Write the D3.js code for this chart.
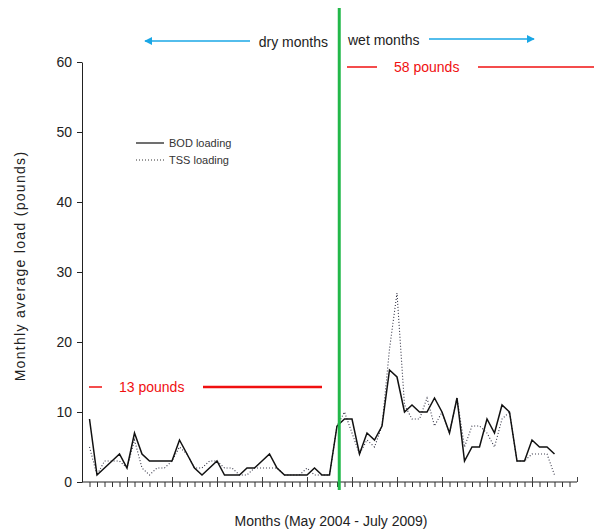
<!DOCTYPE html>
<html>
<head>
<meta charset="utf-8">
<script src="https://cdn.jsdelivr.net/npm/d3@7/dist/d3.min.js"></script>
<style>
  body { margin: 0; background: #fff; }
  svg { font-family: "Liberation Sans", Arial, sans-serif; }
</style>
</head>
<body>
<div id="chart"></div>
<script>
// Monthly loads, May 2004 - July 2009 (63 months)
var bod = [9,1,2,3,4,2,7,4,3,3,3,3,6,4,2,1,2,3,1,1,1,2,2,3,4,2,1,1,1,1,2,1,1,8,
           9,9,4,7,6,8,16,15,10,11,10,10,12,10,7,12,3,5,5,9,7,11,10,3,3,6,5,5,4];
var tss = [5,1,3,3,3,2,6,2,1,2,2,3,5,4,2,2,3,3,2,2,1,1,2,2,2,2,1,1,1,2,1,1,1,8,
           10,7,4,6,5,8,19,27,11,9,9,12,8,10,7,12,5,8,8,7,5,9,10,3,3,4,4,4,1];
var yTicks = [0,10,20,30,40,50,60];

var w = 597;
var h = 531;

var svg = d3.select("#chart")
            .append("svg")
            .attr("width", w)
            .attr("height", h);

var x = d3.scaleLinear().domain([0, 66]).range([82, 577]);
var y = d3.scaleLinear().domain([0, 60]).range([482, 62]);

var months = d3.range(1, 66);
var majors = d3.range(6, 67, 6);

//Y axis
var yAxis = svg.append("g")
    .attr("transform", "translate(82,0)")
    .call(d3.axisLeft(y).tickValues(yTicks).tickSize(5).tickSizeOuter(0).tickPadding(5));
yAxis.selectAll("text").style("font-size", "14px").style("fill", "#222");
yAxis.selectAll("line, path").style("stroke", "#222");

//X axis, minor ticks below, major ticks above
var xAxis = svg.append("g")
    .attr("transform", "translate(0,482)")
    .call(d3.axisBottom(x).tickValues(months).tickSize(5).tickSizeOuter(0).tickFormat(""));
xAxis.select("path").attr("d", "M82,0H577").style("stroke", "#222");
xAxis.selectAll("line").style("stroke", "#333");

var xMajor = svg.append("g")
    .attr("transform", "translate(0,482)")
    .call(d3.axisTop(x).tickValues(majors).tickSize(5).tickSizeOuter(0).tickFormat(""));
xMajor.select("path").remove();
xMajor.selectAll("line").style("stroke", "#444");

//Axis titles
svg.append("text")
    .attr("transform", "translate(25,266) rotate(-90)")
    .attr("text-anchor", "middle")
    .style("font-size", "14px")
    .style("letter-spacing", "1.3px")
    .style("fill", "#222")
    .text("Monthly average load (pounds)");

svg.append("text")
    .attr("x", 331)
    .attr("y", 526)
    .attr("text-anchor", "middle")
    .style("font-size", "14px")
    .style("fill", "#222")
    .text("Months (May 2004 - July 2009)");

//Lines
var line = d3.line()
    .x(function(d, i) { return x(i + 1); })
    .y(function(d) { return y(d); });

svg.append("path")
    .datum(tss)
    .attr("d", line)
    .style("fill", "none")
    .style("stroke", "#334")
    .style("stroke-width", 1.1)
    .style("stroke-dasharray", "1,2");

svg.append("path")
    .datum(bod)
    .attr("d", line)
    .style("fill", "none")
    .style("stroke", "#111")
    .style("stroke-width", 1.5);

//Dry / wet divider
svg.append("line")
    .attr("x1", x(34.3)).attr("x2", x(34.3))
    .attr("y1", 8).attr("y2", 490)
    .style("stroke", "#22b84a")
    .style("stroke-width", 3);

//Arrows
var defs = svg.append("defs");
defs.append("marker")
    .attr("id", "arrow")
    .attr("viewBox", "0 0 10 10")
    .attr("refX", 9).attr("refY", 5)
    .attr("markerWidth", 8).attr("markerHeight", 8)
    .attr("orient", "auto-start-reverse")
    .attr("markerUnits", "userSpaceOnUse")
    .append("path")
    .attr("d", "M0,0L10,5L0,10z")
    .style("fill", "#1aa7e6");

svg.append("line")
    .attr("x1", 250).attr("y1", 41).attr("x2", 145).attr("y2", 41)
    .style("stroke", "#1aa7e6").style("stroke-width", 1.5)
    .attr("marker-end", "url(#arrow)");
svg.append("line")
    .attr("x1", 429).attr("y1", 39).attr("x2", 534).attr("y2", 39)
    .style("stroke", "#1aa7e6").style("stroke-width", 1.5)
    .attr("marker-end", "url(#arrow)");

svg.append("text")
    .attr("x", 328).attr("y", 47)
    .attr("text-anchor", "end")
    .style("font-size", "14px").style("fill", "#222")
    .text("dry months");
svg.append("text")
    .attr("x", 348).attr("y", 45)
    .style("font-size", "14px").style("fill", "#222")
    .text("wet months");

//Pound markers
var red = "#f01010";
function marker(x1, x2, x3, x4, yy, label, tx) {
    svg.append("line").attr("x1", x1).attr("x2", x2).attr("y1", yy).attr("y2", yy)
        .style("stroke", red).style("stroke-width", 1.5);
    svg.append("line").attr("x1", x3).attr("x2", x4).attr("y1", yy).attr("y2", yy)
        .style("stroke", red).style("stroke-width", x4 - x3 > 100 && yy > 300 ? 2.5 : 1.5);
    svg.append("text").attr("x", tx).attr("y", yy + 5)
        .style("font-size", "14px").style("fill", red)
        .text(label);
}
marker(347, 377, 478, 594, 67, "58 pounds", 394);
marker(89, 102, 203, 322, 387, "13 pounds", 119);

//Legend
svg.append("line").attr("x1", 136).attr("x2", 164).attr("y1", 143).attr("y2", 143)
    .style("stroke", "#111").style("stroke-width", 1.2);
svg.append("line").attr("x1", 136).attr("x2", 164).attr("y1", 160).attr("y2", 160)
    .style("stroke", "#333").style("stroke-width", 1).style("stroke-dasharray", "1,2");
svg.append("text").attr("x", 169).attr("y", 147)
    .style("font-size", "11px").style("fill", "#333").text("BOD loading");
svg.append("text").attr("x", 169).attr("y", 164)
    .style("font-size", "11px").style("fill", "#333").text("TSS loading");
</script>
</body>
</html>
